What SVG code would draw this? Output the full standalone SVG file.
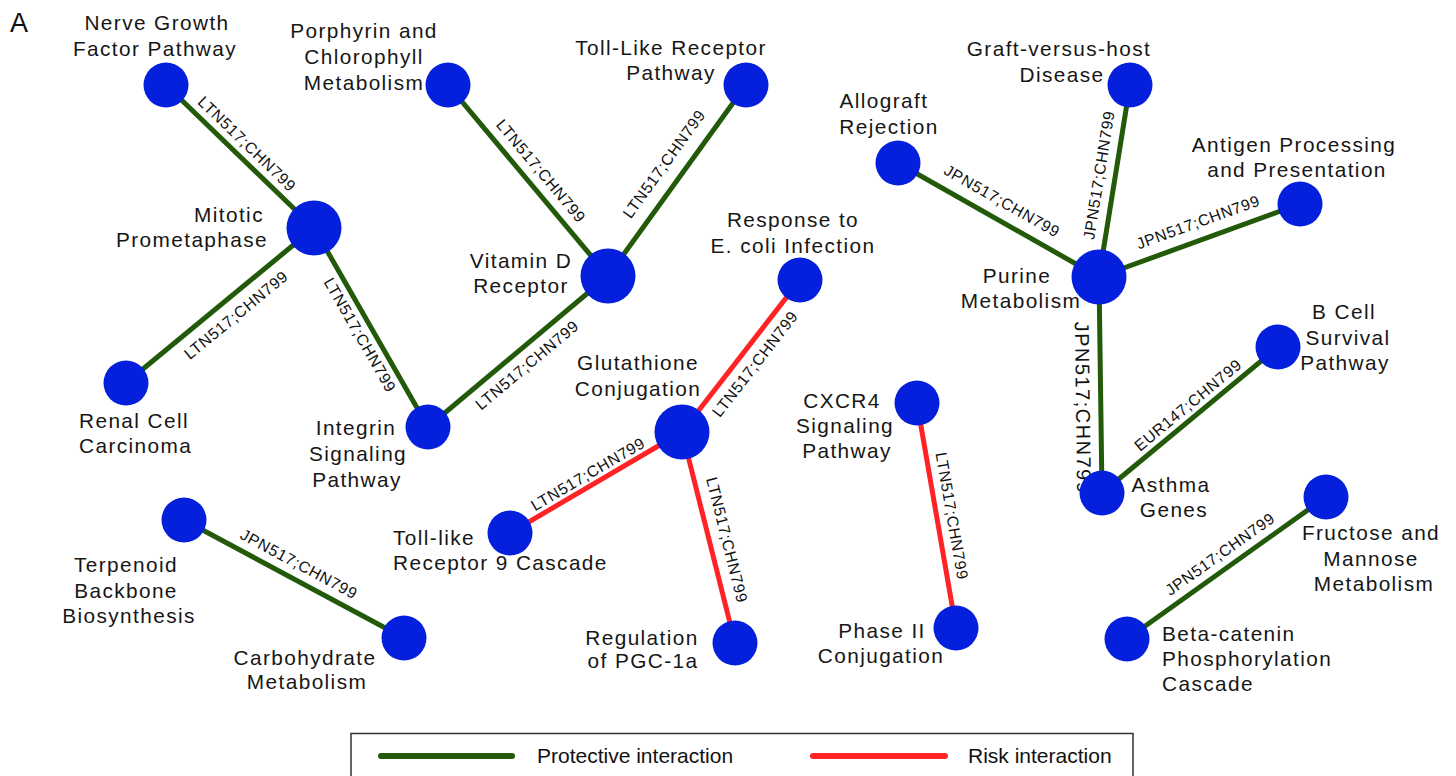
<svg xmlns="http://www.w3.org/2000/svg" width="1456" height="776" viewBox="0 0 1456 776">
<style>
.n{fill:#0520dd}
.g{stroke:#235a0a;stroke-width:5;fill:none}
.r{stroke:#ff2326;stroke-width:5;fill:none}
.lb{font-family:"Liberation Sans",Arial,sans-serif;font-size:20.8px;letter-spacing:1.4px;fill:#161616;text-anchor:middle}
.ls{text-anchor:start}
.el{font-family:"Liberation Sans",Arial,sans-serif;font-size:15.8px;letter-spacing:0.7px;fill:#111;text-anchor:middle;dominant-baseline:central}
.lg{font-family:"Liberation Sans",Arial,sans-serif;font-size:21px;fill:#111}
</style>
<rect width="1456" height="776" fill="#fff"/>
<text x="10" y="32" font-family="Liberation Sans, Arial, sans-serif" font-size="27" fill="#111">A</text>

<g id="connectors">
<line class="g" x1="166" y1="85" x2="314" y2="228"/>
<line class="g" x1="448" y1="85" x2="608" y2="276"/>
<line class="g" x1="608" y1="276" x2="746" y2="85"/>
<line class="g" x1="126" y1="383" x2="314" y2="228"/>
<line class="g" x1="314" y1="228" x2="428" y2="427"/>
<line class="g" x1="428" y1="427" x2="608" y2="276"/>
<line class="r" x1="682" y1="432" x2="800" y2="280"/>
<line class="r" x1="510" y1="533" x2="682" y2="432"/>
<line class="r" x1="682" y1="432" x2="735" y2="643"/>
<line class="r" x1="917" y1="403" x2="956" y2="628"/>
<line class="g" x1="184" y1="520" x2="404" y2="638"/>
<line class="g" x1="898" y1="163" x2="1099" y2="277"/>
<line class="g" x1="1099" y1="277" x2="1130" y2="85"/>
<line class="g" x1="1099" y1="277" x2="1300" y2="204"/>
<line class="g" x1="1099" y1="277" x2="1102" y2="493"/>
<line class="g" x1="1102" y1="493" x2="1278" y2="347"/>
<line class="g" x1="1127" y1="639" x2="1326" y2="497"/>

<text class="el" transform="translate(247,144) rotate(44)">LTN517;CHN799</text>
<text class="el" transform="translate(541,171) rotate(50)">LTN517;CHN799</text>
<text class="el" transform="translate(664,164) rotate(-54.2)">LTN517;CHN799</text>
<text class="el" transform="translate(236,315) rotate(-39.5)">LTN517;CHN799</text>
<text class="el" transform="translate(360,335) rotate(60.2)">LTN517;CHN799</text>
<text class="el" transform="translate(527,365) rotate(-40)">LTN517;CHN799</text>
<text class="el" transform="translate(755,364) rotate(-52.2)">LTN517;CHN799</text>
<text class="el" transform="translate(588,474) rotate(-30.4)">LTN517;CHN799</text>
<text class="el" transform="translate(727,540) rotate(75.9)">LTN517;CHN799</text>
<text class="el" transform="translate(952,516) rotate(80.2)">LTN517;CHN799</text>
<text class="el" transform="translate(299,564) rotate(28.2)">JPN517;CHN799</text>
<text class="el" transform="translate(1002,201) rotate(29.6)">JPN517;CHN799</text>
<text class="el" transform="translate(1099,175) rotate(-80.8)">JPN517;CHN799</text>
<text class="el" transform="translate(1198,222) rotate(-20)">JPN517;CHN799</text>
<text class="el" transform="translate(1083,408) rotate(89.2)" style="font-size:20px;letter-spacing:1.5px">JPN517;CHN799</text>
<text class="el" transform="translate(1188,405) rotate(-39.7)">EUR147;CHN799</text>
<text class="el" transform="translate(1220,554) rotate(-35.5)">JPN517;CHN799</text>
</g>

<g id="ngf"><circle class="n" cx="166" cy="85" r="22.5"/><text class="lb" x="157" y="30">Nerve Growth</text><text class="lb" x="155" y="56">Factor Pathway</text></g>
<g id="porphyrin"><circle class="n" cx="448" cy="85" r="22.5"/><text class="lb" x="364" y="38">Porphyrin and</text><text class="lb" x="364" y="64">Chlorophyll</text><text class="lb" x="364" y="90">Metabolism</text></g>
<g id="tlr"><circle class="n" cx="746" cy="85" r="22.5"/><text class="lb" x="671" y="55">Toll-Like Receptor</text><text class="lb" x="671" y="80">Pathway</text></g>
<g id="mitotic"><circle class="n" cx="314" cy="228" r="27.5"/><text class="lb" x="229" y="222">Mitotic</text><text class="lb" x="192" y="247">Prometaphase</text></g>
<g id="vitd"><circle class="n" cx="608" cy="276" r="27.5"/><text class="lb" x="521" y="268">Vitamin D</text><text class="lb" x="521" y="293">Receptor</text></g>
<g id="renal"><circle class="n" cx="126" cy="383" r="22.5"/><text class="lb ls" x="79" y="428">Renal Cell</text><text class="lb ls" x="79" y="453">Carcinoma</text></g>
<g id="integrin"><circle class="n" cx="428" cy="427" r="22.5"/><text class="lb" x="356" y="435">Integrin</text><text class="lb" x="358" y="461">Signaling</text><text class="lb" x="357" y="487">Pathway</text></g>
<g id="ecoli"><circle class="n" cx="800" cy="280" r="22.5"/><text class="lb" x="793" y="227">Response to</text><text class="lb" x="793" y="253">E. coli Infection</text></g>
<g id="glutathione"><circle class="n" cx="682" cy="432" r="27.5"/><text class="lb" x="638" y="370">Glutathione</text><text class="lb" x="638" y="396">Conjugation</text></g>
<g id="tlr9"><circle class="n" cx="510" cy="533" r="22.5"/><text class="lb ls" x="393" y="545">Toll-like</text><text class="lb ls" x="393" y="570">Receptor 9 Cascade</text></g>
<g id="pgc"><circle class="n" cx="735" cy="643" r="22.5"/><text class="lb" x="642" y="645">Regulation</text><text class="lb" x="643" y="668">of PGC-1a</text></g>
<g id="cxcr4"><circle class="n" cx="917" cy="403" r="22.5"/><text class="lb" x="842" y="408">CXCR4</text><text class="lb" x="845" y="433">Signaling</text><text class="lb" x="847" y="458">Pathway</text></g>
<g id="phase2"><circle class="n" cx="956" cy="628" r="22.5"/><text class="lb" x="882" y="638">Phase II</text><text class="lb" x="881" y="663">Conjugation</text></g>
<g id="terpenoid"><circle class="n" cx="184" cy="520" r="22.5"/><text class="lb" x="126" y="572">Terpenoid</text><text class="lb" x="126" y="598">Backbone</text><text class="lb" x="129" y="623">Biosynthesis</text></g>
<g id="carbohydrate"><circle class="n" cx="404" cy="638" r="22.5"/><text class="lb" x="305" y="665">Carbohydrate</text><text class="lb" x="307" y="689">Metabolism</text></g>
<g id="allograft"><circle class="n" cx="898" cy="163" r="22.5"/><text class="lb" x="884" y="108">Allograft</text><text class="lb" x="889" y="134">Rejection</text></g>
<g id="gvhd"><circle class="n" cx="1130" cy="85" r="22.5"/><text class="lb" x="1059" y="56">Graft-versus-host</text><text class="lb" x="1062" y="82">Disease</text></g>
<g id="antigen"><circle class="n" cx="1300" cy="204" r="22.5"/><text class="lb" x="1294" y="152">Antigen Processing</text><text class="lb" x="1297" y="177">and Presentation</text></g>
<g id="purine"><circle class="n" cx="1099" cy="277" r="27.5"/><text class="lb" x="1017" y="283">Purine</text><text class="lb" x="1021" y="308">Metabolism</text></g>
<g id="bcell"><circle class="n" cx="1278" cy="347" r="22.5"/><text class="lb" x="1344" y="319">B Cell</text><text class="lb" x="1348" y="345">Survival</text><text class="lb" x="1345" y="370">Pathway</text></g>
<g id="asthma"><circle class="n" cx="1102" cy="493" r="22.5"/><text class="lb" x="1171" y="492">Asthma</text><text class="lb" x="1174" y="517">Genes</text></g>
<g id="fructose"><circle class="n" cx="1326" cy="497" r="22.5"/><text class="lb" x="1371" y="540">Fructose and</text><text class="lb" x="1371" y="566">Mannose</text><text class="lb" x="1374" y="591">Metabolism</text></g>
<g id="betacatenin"><circle class="n" cx="1127" cy="639" r="22.5"/><text class="lb ls" x="1162" y="641">Beta-catenin</text><text class="lb ls" x="1162" y="666">Phosphorylation</text><text class="lb ls" x="1162" y="691">Cascade</text></g>

<g id="legend">
<rect x="351" y="733.5" width="782" height="60" fill="#fff" stroke="#333" stroke-width="1.5"/>
<line x1="381" y1="756" x2="512" y2="756" stroke="#235a0a" stroke-width="6" stroke-linecap="round"/>
<text class="lg" x="537" y="763">Protective interaction</text>
<line x1="813" y1="756" x2="945" y2="756" stroke="#ff2326" stroke-width="6" stroke-linecap="round"/>
<text class="lg" x="968" y="763">Risk interaction</text>
</g>
</svg>
